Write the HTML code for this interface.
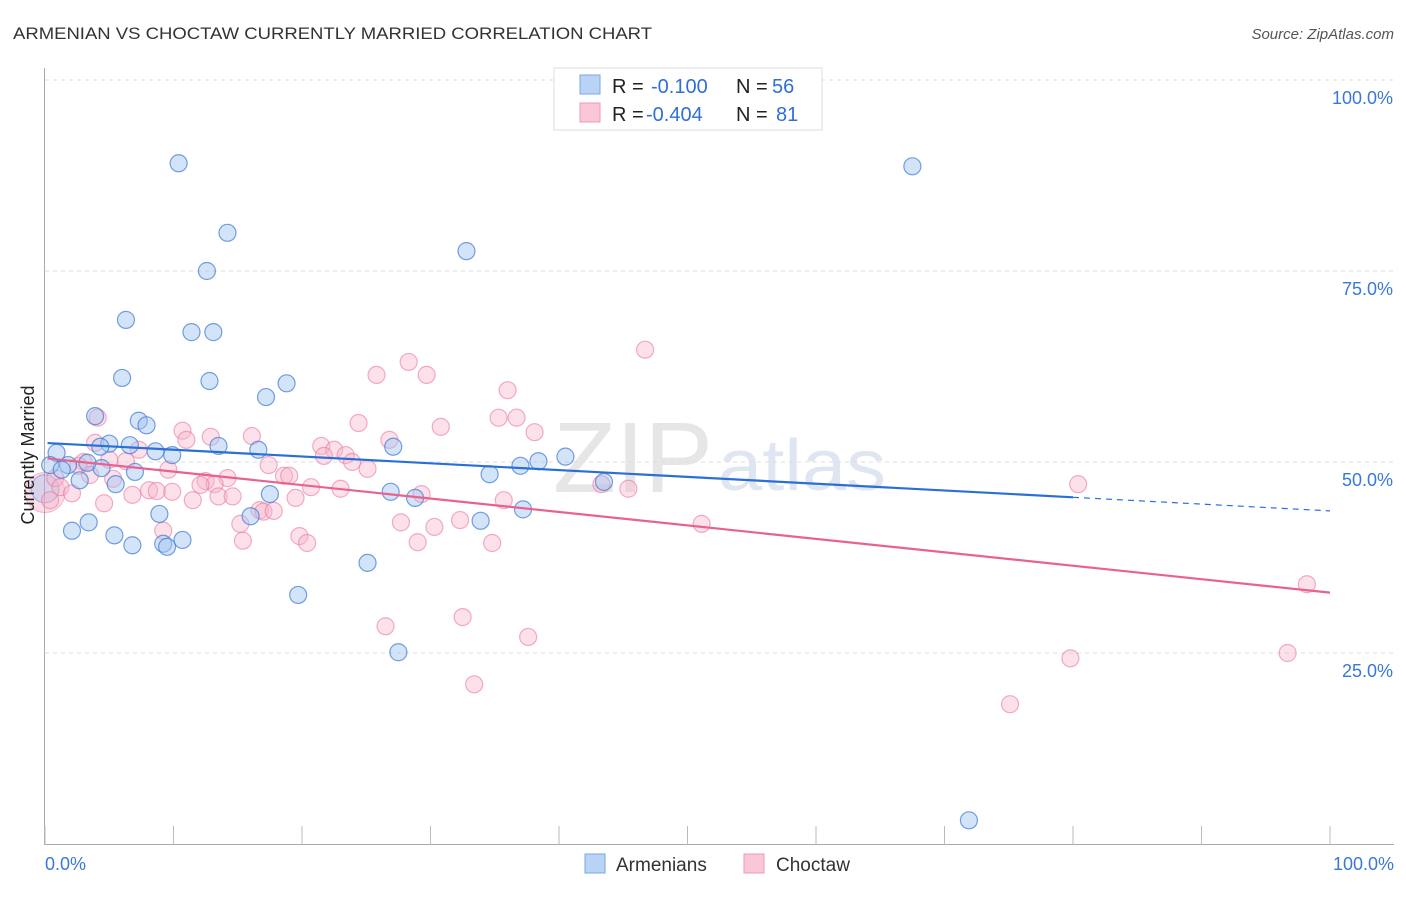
<!DOCTYPE html>
<html><head><meta charset="utf-8"><style>
body{margin:0;background:#fff;font-family:"Liberation Sans",sans-serif}
svg text{font-family:"Liberation Sans",sans-serif}
</style></head><body>
<svg id="chart" width="1406" height="892">
<text x="13" y="39" font-size="17" fill="#333" textLength="639" lengthAdjust="spacingAndGlyphs">ARMENIAN VS CHOCTAW CURRENTLY MARRIED CORRELATION CHART</text>
<text x="1394" y="39" font-size="15" fill="#555" font-style="italic" text-anchor="end">Source: ZipAtlas.com</text>
<text x="553" y="492" font-size="100" fill="#e6e6e6" font-family="Liberation Serif" textLength="160" lengthAdjust="spacingAndGlyphs">ZIP</text>
<text x="718" y="490" font-size="72" fill="#dfe6f2" textLength="168" lengthAdjust="spacingAndGlyphs">atlas</text>
<g id="grid"></g><g id="axes"></g><g id="pts"></g><g id="trend"></g>
<text x="34" y="455" font-size="18" fill="#222" text-anchor="middle" transform="rotate(-90 34 455)">Currently Married</text>
<g>
<rect x="554" y="68" width="268" height="62" fill="#fff" stroke="#ddd"/>
<rect x="580" y="75" width="20" height="19" fill="#b9d3f5" stroke="#7aa6e6"/>
<rect x="580" y="103" width="20" height="19" fill="#f9c7d6" stroke="#ee9ab4"/>
<text x="612" y="93" font-size="20" fill="#222">R =</text><text x="651" y="93" font-size="20" fill="#2f6fd6">-0.100</text>
<text x="736" y="93" font-size="20" fill="#222">N =</text><text x="772" y="93" font-size="20" fill="#2f6fd6">56</text>
<text x="612" y="121" font-size="20" fill="#222">R =</text><text x="646" y="121" font-size="20" fill="#2f6fd6">-0.404</text>
<text x="736" y="121" font-size="20" fill="#222">N =</text><text x="776" y="121" font-size="20" fill="#2f6fd6">81</text>
</g>
<g>
<rect x="585" y="854" width="20" height="19" fill="#b9d3f5" stroke="#7aa6e6"/>
<text x="616" y="871" font-size="19" fill="#333">Armenians</text>
<rect x="744" y="854" width="20" height="19" fill="#f9c7d6" stroke="#ee9ab4"/>
<text x="776" y="871" font-size="19" fill="#333">Choctaw</text>
</g>
<text x="45" y="870" font-size="18" fill="#3a78d8">0.0%</text>
<text x="1394" y="870" font-size="18" fill="#3a78d8" text-anchor="end">100.0%</text>
</svg>
<script>
const yTicks=[100,75,50,25];
const yTickLabels=["100.0%","75.0%","50.0%","25.0%"];
const xTicks=[0,10,20,30,40,50,60,70,80,90,100];
const armX=[10.4,67.5,14.2,32.8,12.6,6.3,11.4,13.1,6.0,12.8,18.8,17.2,3.9,7.3,7.9,0.9,5.0,8.6,13.5,16.6,27.1,9.9,1.8,4.4,7.0,3.3,2.7,5.5,34.6,37.0,38.4,40.5,43.5,17.5,26.9,28.8,8.9,16.0,37.2,33.9,3.4,2.1,5.4,6.8,9.2,9.5,10.7,25.1,19.7,27.5,71.9,0.4,1.3,4.3,6.6];
const armY=[89.1,88.7,80.0,77.6,75.0,68.6,67.0,67.0,61.0,60.6,60.3,58.5,56.0,55.4,54.8,51.2,52.4,51.4,52.1,51.6,52.0,50.9,49.6,49.2,48.7,49.9,47.6,47.1,48.4,49.5,50.1,50.7,47.4,45.8,46.1,45.3,43.2,42.9,43.8,42.3,42.1,41.0,40.4,39.1,39.3,38.9,39.8,36.8,32.6,25.1,3.1,49.6,49.0,52.0,52.2];
const choX=[46.7,28.3,25.8,29.7,36.0,35.3,36.7,24.4,30.8,4.1,10.7,11.0,12.9,16.1,26.8,3.9,38.1,21.5,22.5,21.7,23.4,23.9,25.1,17.4,6.3,3.0,5.0,7.3,9.6,2.6,18.6,19.0,14.2,12.5,13.2,12.1,20.7,13.5,14.6,23.0,29.3,43.3,45.4,8.1,6.8,8.7,9.9,11.5,4.6,0.8,1.2,2.1,0.4,19.5,35.7,16.7,17.0,15.2,17.8,27.7,30.3,32.3,51.1,9.2,19.8,20.4,15.4,29.0,34.8,80.4,98.2,26.5,32.5,37.6,33.4,79.8,96.7,75.1,5.3,3.5];
const choY=[64.7,63.1,61.4,61.4,59.4,55.8,55.8,55.1,54.6,55.8,54.1,52.9,53.3,53.4,52.9,52.5,53.9,52.1,51.6,50.8,50.9,50.0,49.1,49.6,50.1,50.0,50.3,51.6,49.0,49.5,48.2,48.2,47.9,47.5,47.1,47.0,46.7,45.5,45.5,46.5,45.8,47.1,46.5,46.3,45.7,46.2,46.1,45.0,44.6,47.9,46.7,45.9,45.0,45.3,45.0,43.7,43.5,41.9,43.6,42.1,41.5,42.4,41.9,41.0,40.3,39.4,39.7,39.5,39.4,47.1,34.0,28.5,29.7,27.1,20.9,24.3,25.0,18.3,47.8,48.3];
const armTrend=[52.5,-0.089];
const choTrend=[50.5,-0.176];
const NS="http://www.w3.org/2000/svg";
const sx=v=>45+v*12.85, sy=v=>844-v*7.64;
function mk(t,a,p){const e=document.createElementNS(NS,t);for(const k in a)e.setAttribute(k,a[k]);p.appendChild(e);return e;}
const grid=document.getElementById('grid'),axes=document.getElementById('axes'),pts=document.getElementById('pts'),tr=document.getElementById('trend');
yTicks.forEach((v,i)=>{
 const l=mk('line',{x1:45,x2:1394,y1:sy(v),y2:sy(v),stroke:'#ddd','stroke-dasharray':'4,4'},grid);
 
 
 const t=mk('text',{x:1393,y:sy(v)+24,'font-size':18,fill:'#3a78d8','text-anchor':'end'},grid);
 t.textContent=yTickLabels[i];
 
 
});
const ya=mk('line',{x1:44.5,x2:44.5,y1:68,y2:845,stroke:'#aaa'},axes);


const xa=mk('line',{x1:44,x2:1394,y1:844.5,y2:844.5,stroke:'#aaa'},axes);


xTicks.forEach(v=>{const t=mk('line',{x1:sx(v),x2:sx(v),y1:826,y2:845,stroke:'#bbb'},axes);
 
 });
function dots(X,Y,fill,stroke,name){X.forEach((x,i)=>{const c=mk('circle',{cx:sx(x),cy:sy(Y[i]),r:8.5,fill:fill,stroke:stroke,'stroke-width':1.2},pts);
 
 });}
const big1=mk('circle',{cx:45,cy:sy(46),r:20,fill:'rgba(245,160,190,0.35)',stroke:'rgba(235,120,160,0.5)'},pts);


const big2=mk('circle',{cx:45,cy:sy(46.5),r:14,fill:'rgba(140,180,240,0.3)',stroke:'rgba(80,130,220,0.5)'},pts);


dots(choX,choY,'rgba(248,180,202,0.4)','rgba(235,120,160,0.6)','choctaw-point');
dots(armX,armY,'rgba(160,195,240,0.45)','rgba(60,120,215,0.7)','armenian-point');
const la=mk('line',{x1:sx(0.2),y1:sy(armTrend[0]+armTrend[1]*0.2),x2:sx(80),y2:sy(armTrend[0]+armTrend[1]*80),stroke:'#2a6fd8','stroke-width':2.2},tr);


const ld=mk('line',{x1:sx(80),y1:sy(armTrend[0]+armTrend[1]*80),x2:sx(100),y2:sy(armTrend[0]+armTrend[1]*100),stroke:'#2a6fd8','stroke-width':1.2,'stroke-dasharray':'6,5'},tr);


const lc=mk('line',{x1:sx(0.2),y1:sy(choTrend[0]+choTrend[1]*0.2),x2:sx(100),y2:sy(choTrend[0]+choTrend[1]*100),stroke:'#e8628f','stroke-width':2.2},tr);


</script>
</body></html>
